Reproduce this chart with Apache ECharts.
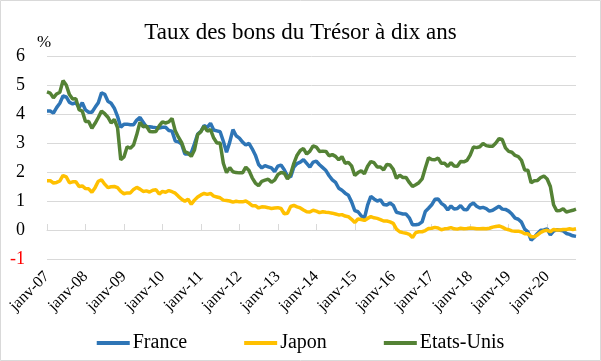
<!DOCTYPE html>
<html>
<head>
<meta charset="utf-8">
<script src="https://cdn.jsdelivr.net/npm/echarts@6/dist/echarts.min.js"></script>
<style>
html,body{margin:0;padding:0;background:#fff;}
#c{width:601px;height:361px;}
</style>
</head>
<body>
<div id="c"></div>
<script>
const monthNames = ['janv','févr','mars','avr','mai','juin','juil','août','sept','oct','nov','déc'];
const years = ['07','08','09','10','11','12','13','14','15','16','17','18','19','20'];
const lastMonthCount2020 = 10;

const categories = [];
years.forEach(function(y, yi){
  const n = (yi === years.length - 1) ? lastMonthCount2020 : 12;
  for (let m = 0; m < n; m++) categories.push(monthNames[m] + '-' + y);
});

const france = [
  4.10, 4.10, 4.03, 4.22, 4.37, 4.62, 4.59, 4.40, 4.35, 4.39, 4.22, 4.39,
  4.14, 4.06, 4.06, 4.23, 4.39, 4.73, 4.68, 4.44, 4.37, 4.20, 3.92, 3.54,
  3.65, 3.65, 3.63, 3.63, 3.79, 3.88, 3.72, 3.55, 3.56, 3.54, 3.53, 3.52,
  3.54, 3.54, 3.43, 3.41, 3.07, 3.04, 2.96, 2.62, 2.62, 2.66, 2.97, 3.31,
  3.40, 3.60, 3.54, 3.68, 3.45, 3.42, 3.39, 3.06, 2.68, 3.03, 3.46, 3.25,
  3.17, 3.03, 2.93, 2.99, 2.80, 2.58, 2.26, 2.14, 2.22, 2.18, 2.14, 2.01,
  2.20, 2.24, 2.08, 1.86, 1.83, 2.17, 2.29, 2.34, 2.43, 2.30, 2.17, 2.34,
  2.37, 2.25, 2.15, 2.05, 1.87, 1.73, 1.64, 1.44, 1.37, 1.27, 1.20, 0.97,
  0.67, 0.63, 0.49, 0.40, 0.86, 1.16, 1.07, 1.00, 1.04, 0.88, 0.86, 0.93,
  0.85, 0.61, 0.58, 0.55, 0.55, 0.42, 0.18, 0.18, 0.20, 0.28, 0.64, 0.75,
  0.87, 1.06, 1.07, 0.92, 0.84, 0.69, 0.83, 0.72, 0.74, 0.84, 0.71, 0.70,
  0.86, 0.93, 0.82, 0.76, 0.78, 0.74, 0.65, 0.68, 0.75, 0.82, 0.72, 0.71,
  0.65, 0.55, 0.41, 0.37, 0.27, 0.03, -0.06, -0.35, -0.25, -0.12, -0.01, 0.00,
  0.04, -0.17, -0.04, 0.01, -0.01, -0.03, -0.12, -0.15, -0.20, -0.22
];

const japon = [
  1.70, 1.70, 1.62, 1.64, 1.69, 1.88, 1.83, 1.63, 1.66, 1.66, 1.50, 1.52,
  1.43, 1.42, 1.30, 1.46, 1.68, 1.73, 1.58, 1.46, 1.49, 1.50, 1.46, 1.33,
  1.25, 1.28, 1.28, 1.40, 1.47, 1.41, 1.33, 1.35, 1.31, 1.37, 1.39, 1.24,
  1.33, 1.30, 1.36, 1.32, 1.27, 1.16, 1.06, 0.99, 1.06, 0.89, 1.03, 1.14,
  1.21, 1.26, 1.23, 1.26, 1.17, 1.14, 1.11, 1.03, 1.02, 1.00, 0.96, 0.99,
  0.97, 0.97, 1.00, 0.93, 0.84, 0.84, 0.76, 0.80, 0.79, 0.77, 0.74, 0.76,
  0.77, 0.74, 0.56, 0.58, 0.81, 0.85, 0.80, 0.76, 0.69, 0.63, 0.62, 0.68,
  0.65, 0.60, 0.63, 0.61, 0.60, 0.58, 0.55, 0.52, 0.53, 0.48, 0.46, 0.37,
  0.26, 0.38, 0.36, 0.33, 0.40, 0.46, 0.42, 0.40, 0.36, 0.31, 0.31, 0.28,
  0.23, 0.03, -0.06, -0.09, -0.11, -0.15, -0.26, -0.09, -0.06, -0.06, -0.02, 0.05,
  0.06, 0.09, 0.07, 0.01, 0.04, 0.05, 0.08, 0.04, 0.03, 0.06, 0.04, 0.05,
  0.07, 0.06, 0.04, 0.04, 0.05, 0.04, 0.06, 0.10, 0.12, 0.14, 0.10, 0.04,
  0.01, -0.03, -0.04, -0.04, -0.07, -0.13, -0.13, -0.23, -0.23, -0.17, -0.08, -0.03,
  -0.01, -0.06, 0.02, 0.00, 0.00, 0.02, 0.02, 0.04, 0.02, 0.04
];

const etatsUnis = [
  4.76, 4.72, 4.56, 4.69, 4.75, 5.15, 5.00, 4.67, 4.52, 4.53, 4.15, 4.10,
  3.74, 3.74, 3.51, 3.68, 3.88, 4.10, 4.01, 3.89, 3.69, 3.81, 3.53, 2.42,
  2.52, 2.87, 2.82, 2.93, 3.29, 3.72, 3.56, 3.59, 3.40, 3.39, 3.40, 3.59,
  3.73, 3.69, 3.73, 3.85, 3.42, 3.20, 3.01, 2.70, 2.65, 2.54, 2.76, 3.29,
  3.39, 3.58, 3.41, 3.46, 3.17, 3.00, 3.00, 2.30, 1.98, 2.15, 2.01, 1.98,
  1.97, 1.97, 2.17, 2.05, 1.80, 1.62, 1.53, 1.68, 1.72, 1.75, 1.65, 1.72,
  1.91, 1.98, 1.96, 1.76, 1.93, 2.30, 2.58, 2.74, 2.81, 2.62, 2.72, 2.90,
  2.86, 2.71, 2.72, 2.71, 2.56, 2.60, 2.54, 2.42, 2.53, 2.30, 2.33, 2.21,
  1.88, 1.98, 2.04, 1.94, 2.20, 2.36, 2.32, 2.17, 2.17, 2.07, 2.26, 2.24,
  2.09, 1.78, 1.89, 1.81, 1.81, 1.64, 1.50, 1.56, 1.63, 1.76, 2.14, 2.49,
  2.43, 2.42, 2.48, 2.30, 2.30, 2.19, 2.32, 2.21, 2.20, 2.36, 2.35, 2.40,
  2.58, 2.86, 2.84, 2.87, 2.98, 2.91, 2.89, 2.89, 3.00, 3.15, 3.12, 2.83,
  2.71, 2.68, 2.57, 2.53, 2.40, 2.07, 2.06, 1.63, 1.70, 1.71, 1.81, 1.86,
  1.76, 1.50, 0.87, 0.66, 0.67, 0.73, 0.62, 0.65, 0.68, 0.72
];

const seriesNames = ['France', 'Japon', 'Etats-Unis'];
const seriesColors = ['#2E75B6', '#FFC000', '#548235'];
const seriesData = [france, japon, etatsUnis];

const FONT = '"Liberation Serif", "Times New Roman", serif';
const chart = echarts.init(document.getElementById('c'), null, {renderer: 'canvas'});

chart.setOption({
  animation: false,
  backgroundColor: '#fff',
  textStyle: {fontFamily: FONT},
  title: {
    text: 'Taux des bons du Trésor à dix ans',
    left: 'center',
    top: 16,
    textStyle: {fontFamily: FONT, fontSize: 23, fontWeight: 'normal', color: '#000'}
  },
  graphic: [
    {type: 'rect', shape: {x: 0.5, y: 0.5, width: 600, height: 360},
     style: {fill: 'none', stroke: '#d9d9d9', lineWidth: 1}, silent: true, z: -1},
    {type: 'text', left: 37, top: 34,
     style: {text: '%', fontFamily: FONT, fontSize: 17, fill: '#000'}}
  ],
  legend: {
    data: seriesNames,
    bottom: 3,
    left: 'center',
    icon: 'rect',
    itemWidth: 33,
    itemHeight: 4,
    itemGap: 57,
    textStyle: {fontFamily: FONT, fontSize: 20, color: '#000', padding: [0, 0, 0, -2]}
  },
  grid: {left: 47, right: 25, top: 56, bottom: 102, containLabel: false},
  xAxis: [
    {
      type: 'category',
      data: categories,
      boundaryGap: false,
      position: 'bottom',
      axisLine: {show: false, onZero: false},
      axisTick: {show: false},
      splitLine: {show: false},
      axisLabel: {
        interval: 11,
        rotate: 45,
        margin: 15,
        fontFamily: FONT,
        fontSize: 16,
        color: '#000'
      }
    },
    {
      type: 'category',
      data: categories,
      boundaryGap: false,
      position: 'bottom',
      axisLine: {show: true, onZero: true, lineStyle: {color: '#d9d9d9', width: 1}},
      axisTick: {show: true, inside: true, interval: 11, length: 6, lineStyle: {color: '#d9d9d9'}},
      axisLabel: {show: false},
      splitLine: {show: false}
    }
  ],
  yAxis: {
    type: 'value',
    min: -1,
    max: 6,
    interval: 1,
    axisLine: {show: false},
    axisTick: {show: false},
    splitLine: {show: true, lineStyle: {color: '#d9d9d9', width: 1}},
    axisLabel: {
      margin: 22,
      fontFamily: FONT,
      fontSize: 18,
      color: function (v) { return Number(v) < 0 ? '#FF0000' : '#000'; }
    }
  },
  series: seriesNames.map(function (name, i) {
    return {
      name: name,
      type: 'line',
      xAxisIndex: 0,
      data: seriesData[i],
      symbol: 'none',
      smooth: false,
      lineStyle: {color: seriesColors[i], width: 3.5},
      itemStyle: {color: seriesColors[i]}
    };
  })
});
</script>
</body>
</html>
